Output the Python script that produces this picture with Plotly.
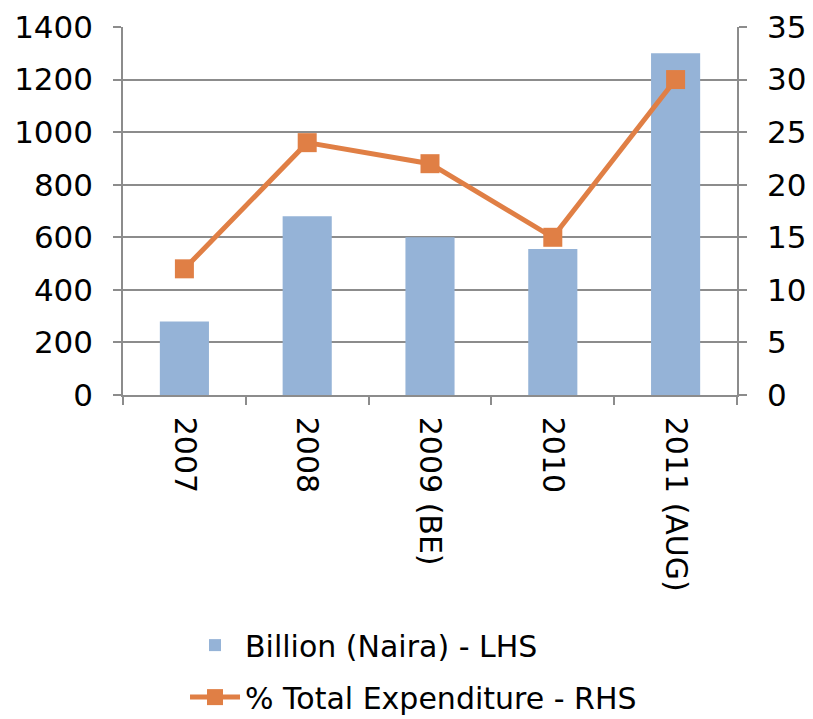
import plotly.graph_objects as go

categories = ["2007", "2008", "2009 (BE)", "2010", "2011 (AUG)"]
billion_naira = [280, 680, 600, 555, 1300]
pct_total_exp = [12, 24, 22, 15, 30]
left_ticks = [0, 200, 400, 600, 800, 1000, 1200, 1400]
right_ticks = [0, 5, 10, 15, 20, 25, 30, 35]

FONT = "DejaVu Sans, sans-serif"
GRID = "#8c8c8c"

fig = go.Figure()
fig.add_trace(go.Bar(
    x=categories, y=billion_naira, name="Billion (Naira) - LHS",
    marker=dict(color="#95B3D7", line=dict(width=0)), width=0.4,
    legendgroup="a", yaxis="y"))
fig.add_trace(go.Scatter(
    x=categories, y=pct_total_exp, name="% Total Expenditure - RHS",
    mode="lines+markers", line=dict(color="#E07F45", width=5),
    marker=dict(symbol="square", size=19, color="#E07F45"),
    legendgroup="b", yaxis="y2"))

fig.update_layout(
    width=813, height=719,
    margin=dict(l=115, r=84, t=19, b=332, autoexpand=False),
    paper_bgcolor="white", plot_bgcolor="white",
    font=dict(family=FONT, size=31, color="black"),
    showlegend=True,
    legend=dict(x=0.101, y=-0.609, xanchor="left", yanchor="top",
                orientation="v", traceorder="grouped", tracegroupgap=10,
                font=dict(size=30, family=FONT), itemwidth=50,
                bgcolor="rgba(0,0,0,0)"),
    xaxis=dict(type="category", tickangle=90, tickson="boundaries",
               ticks="outside", ticklen=8, tickcolor=GRID, tickwidth=1.5,
               showline=True, linecolor=GRID, linewidth=1.5,
               showgrid=False, tickfont=dict(size=30, family=FONT),
               ticklabelstandoff=14, automargin=False),
    yaxis=dict(range=[0, 1400], tickvals=left_ticks, showgrid=True,
               gridcolor=GRID, gridwidth=1.5, zeroline=False,
               showline=True, linecolor=GRID, linewidth=1.5,
               ticks="outside", ticklen=8, tickcolor=GRID, tickwidth=1.5,
               tickfont=dict(size=31, family=FONT),
               ticklabelstandoff=14, automargin=False),
    yaxis2=dict(range=[0, 35], tickvals=right_ticks, overlaying="y",
                side="right", showgrid=False, zeroline=False,
                showline=True, linecolor=GRID, linewidth=1.5,
                ticks="outside", ticklen=8, tickcolor=GRID, tickwidth=1.5,
                tickfont=dict(size=31, family=FONT),
                ticklabelstandoff=14, automargin=False),
)

fig.write_html("out.html")
